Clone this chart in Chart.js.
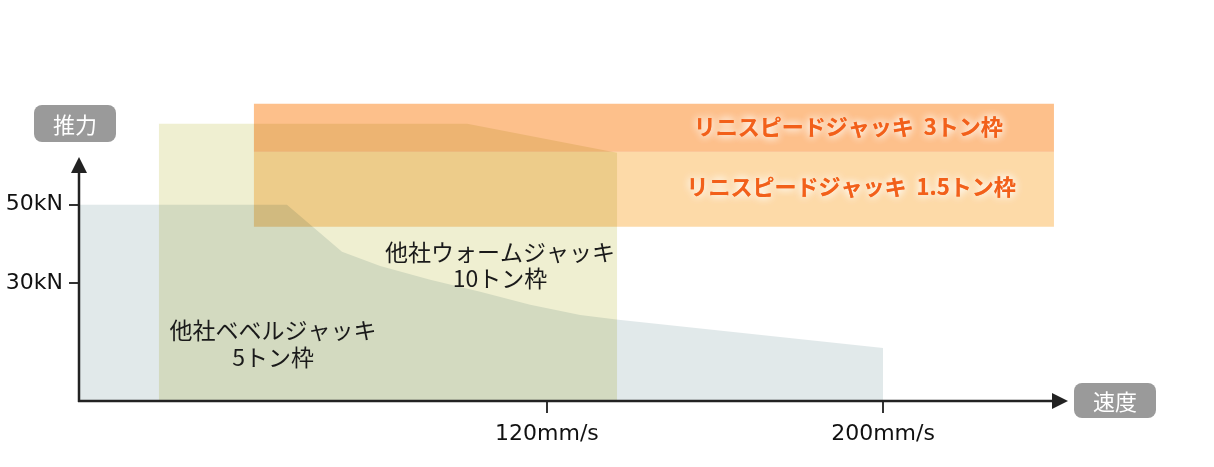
<!DOCTYPE html>
<html>
<head>
<meta charset="utf-8">
<script src="https://cdn.jsdelivr.net/npm/chart.js@4.4.0/dist/chart.umd.min.js"></script>
<style>
  html, body { margin: 0; padding: 0; background: #fff; overflow: hidden; }
  #wrap { width: 1214px; height: 467px; }
</style>
</head>
<body>
<div id="wrap"><canvas id="chart01" width="1214" height="467"></canvas></div>
<script>
// speed in mm/s, thrust in kN
// 他社ベベルジャッキ 5トン枠
const bevelSpeed  = [8.6, 58.1, 71.2, 80.3, 92.2, 104.1, 116.0, 127.9, 137.0, 200];
const bevelThrust = [50, 50, 38.0, 34.4, 30.9, 27.8, 24.5, 21.9, 20.7, 13.5];

// 他社ウォームジャッキ 10トン枠
const wormSpeed  = [27.6, 101.0, 136.7];
const wormThrust = [70.6, 70.6, 63.2];

// リニスピードジャッキ (bands: [bottom, top])
const lsjSpeed    = [50.2, 240.7];
const lsj15Thrust = [44.4, 63.5];
const lsj3Thrust  = [63.5, 75.7];

const speedTicks  = [120, 200];
const thrustTicks = [30, 50];

const seriesNames = ['他社ベベルジャッキ', '他社ウォームジャッキ', 'リニスピードジャッキ'];
const frameNames  = ['5トン枠', '10トン枠', '1.5トン枠', '3トン枠'];
const axisNames   = ['推力', '速度'];

function toPoints(xs, ys) {
  var temp = [];
  for (var i = 0; i < xs.length; i++) {
    temp.push({ x: xs[i], y: ys[i] });
  }
  return temp;
}

function band(xs, range) {
  return xs.map(function (x) { return { x: x, y: range[1] }; });
}

const jpFont = '"Noto Sans CJK JP", sans-serif';
const tickFont = { family: '"DejaVu Sans", sans-serif', size: 22 };

const decor = {
  id: 'decor',
  beforeDraw(chart) {
    const ctx = chart.ctx;
    ctx.save();
    ctx.fillStyle = '#fff';
    ctx.fillRect(0, 0, chart.width, chart.height);
    ctx.restore();
  },
  beforeDatasetsDraw(chart) {
    chart.ctx.save();
    chart.ctx.globalCompositeOperation = 'multiply';
  },
  afterDatasetsDraw(chart) {
    chart.ctx.restore();
  },
  afterDraw(chart) {
    const ctx = chart.ctx;
    const a = chart.chartArea;
    const xs = chart.scales.x, ys = chart.scales.y;

    // axes with arrows
    ctx.save();
    ctx.strokeStyle = '#222';
    ctx.fillStyle = '#222';
    ctx.lineWidth = 2.5;
    ctx.beginPath();
    ctx.moveTo(a.left, a.bottom + 1);
    ctx.lineTo(a.left, 170);
    ctx.moveTo(a.left - 1, a.bottom);
    ctx.lineTo(a.right - 14, a.bottom);
    ctx.stroke();
    ctx.beginPath();
    ctx.moveTo(a.left, 157);
    ctx.lineTo(a.left - 8, 173);
    ctx.lineTo(a.left + 8, 173);
    ctx.closePath();
    ctx.fill();
    ctx.beginPath();
    ctx.moveTo(a.right + 1, a.bottom);
    ctx.lineTo(a.right - 15, a.bottom - 8);
    ctx.lineTo(a.right - 15, a.bottom + 8);
    ctx.closePath();
    ctx.fill();

    // axis badges
    function badge(text, x, y, w, h) {
      ctx.fillStyle = '#9a9a9a';
      ctx.beginPath();
      ctx.roundRect(x, y, w, h, 8);
      ctx.fill();
      ctx.fillStyle = '#fff';
      ctx.font = '22px ' + jpFont;
      ctx.textAlign = 'center';
      ctx.textBaseline = 'middle';
      ctx.fillText(text, x + w / 2, y + h / 2 + 1);
    }
    badge(axisNames[0], 34, 105, 82, 37);
    badge(axisNames[1], 1074, 383, 82, 35);

    // competitor labels
    ctx.fillStyle = '#1a1a1a';
    ctx.font = '23px ' + jpFont;
    ctx.textAlign = 'center';
    ctx.textBaseline = 'middle';
    var bx = xs.getPixelForValue(54.8), by = ys.getPixelForValue(18.1);
    ctx.fillText(seriesNames[0], bx, by);
    ctx.fillText(frameNames[0], bx, by + 27);
    var wx = xs.getPixelForValue(108.8), wy = ys.getPixelForValue(38.0);
    ctx.fillText(seriesNames[1], wx, wy);
    ctx.fillText(frameNames[1], wx, wy + 26);

    // linispeed labels with white glow
    ctx.font = 'bold 22px ' + jpFont;
    ctx.fillStyle = '#f2601a';
    ctx.shadowColor = 'rgba(255,255,255,1)';
    ctx.shadowBlur = 8;
    var l3 = seriesNames[2] + '  ' + frameNames[3];
    var l15 = seriesNames[2] + '  ' + frameNames[2];
    for (var k = 0; k < 2; k++) {
      ctx.fillText(l3, xs.getPixelForValue(191.7), ys.getPixelForValue(69.9));
      ctx.fillText(l15, xs.getPixelForValue(192.4), ys.getPixelForValue(54.6));
    }
    ctx.restore();
  }
};

const ctx = document.getElementById('chart01').getContext('2d');
const myChart = new Chart(ctx, {
  type: 'line',
  data: {
    datasets: [
      {
        label: seriesNames[0] + ' ' + frameNames[0],
        data: toPoints(bevelSpeed, bevelThrust),
        backgroundColor: '#e1e9ea',
        fill: 'origin'
      },
      {
        label: seriesNames[1] + ' ' + frameNames[1],
        data: toPoints(wormSpeed, wormThrust),
        backgroundColor: '#efefd1',
        fill: 'origin'
      },
      {
        label: seriesNames[2] + ' ' + frameNames[2],
        data: band(lsjSpeed, lsj15Thrust),
        backgroundColor: '#fddaa8',
        fill: { value: lsj15Thrust[0] }
      },
      {
        label: seriesNames[2] + ' ' + frameNames[3],
        data: band(lsjSpeed, lsj3Thrust),
        backgroundColor: '#fdc08b',
        fill: { value: lsj3Thrust[0] }
      }
    ]
  },
  options: {
    responsive: false,
    animation: false,
    devicePixelRatio: 1,
    layout: { padding: { top: 79, right: 147, left: 0, bottom: 0 } },
    elements: {
      line: { borderWidth: 0, borderColor: 'rgba(0,0,0,0)', tension: 0 },
      point: { radius: 0, hoverRadius: 0 }
    },
    plugins: {
      legend: { display: false },
      tooltip: { enabled: false }
    },
    scales: {
      x: {
        type: 'linear',
        min: 8.6,
        max: 243.8,
        afterFit: function (s) { s.height = 66; },
        afterBuildTicks: function (s) { s.ticks = speedTicks.map(function (v) { return { value: v }; }); },
        ticks: {
          callback: function (v) { return v + 'mm/s'; },
          font: tickFont,
          color: '#111',
          padding: 8,
          maxRotation: 0,
          autoSkip: false
        },
        grid: { drawOnChartArea: false, tickLength: 12, color: '#333', lineWidth: 2 },
        border: { display: false }
      },
      y: {
        min: 0,
        max: 82,
        afterFit: function (s) { s.width = 79; },
        afterBuildTicks: function (s) { s.ticks = thrustTicks.map(function (v) { return { value: v }; }); },
        ticks: {
          callback: function (v) { return v + 'kN'; },
          font: tickFont,
          color: '#111',
          padding: 6
        },
        grid: { drawOnChartArea: false, tickLength: 10, color: '#333', lineWidth: 2 },
        border: { display: false }
      }
    }
  },
  plugins: [decor]
});
</script>
</body>
</html>
